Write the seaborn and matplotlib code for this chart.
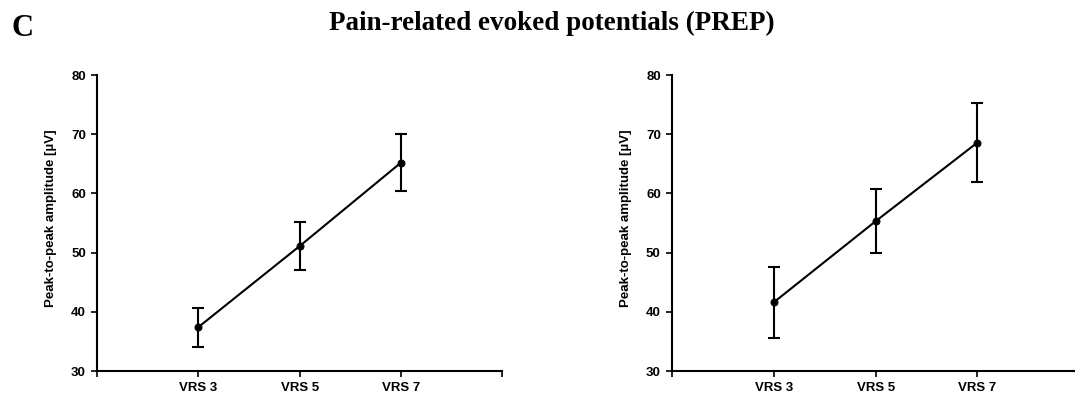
import matplotlib
matplotlib.use("Agg")
import matplotlib.pyplot as plt
import seaborn as sns
import numpy as np
import pandas as pd

categories = ["VRS 3", "VRS 5", "VRS 7"]
left_means = [37.4, 51.1, 65.2]
left_err = [3.3, 4.0, 4.8]
right_means = [41.6, 55.3, 68.6]
right_err = [6.0, 5.4, 6.7]
yticks = [30, 40, 50, 60, 70, 80]
ylabel = "Peak-to-peak amplitude [µV]"
title = "Pain-related evoked potentials (PREP)"
panel_letter = "C"

sns.set_theme(style="white")
plt.rcParams['font.family'] = ['Liberation Sans', 'DejaVu Sans']
plt.rcParams['text.color'] = 'black'
plt.rcParams['axes.labelcolor'] = 'black'

fig = plt.figure(figsize=(10.75, 4.01), dpi=100)
ax1 = fig.add_axes([0.0902, 0.0748, 0.377, 0.738])
ax2 = fig.add_axes([0.625, 0.0748, 0.379, 0.738])

positions = [1, 2, 3]
for ax, means, errs, wpx in [(ax1, left_means, left_err, 405), (ax2, right_means, right_err, 407)]:
    df = pd.DataFrame({"pos": positions, "mean": means})
    sns.lineplot(data=df, x="pos", y="mean", ax=ax, color="black", lw=1.5,
                 marker="o", markersize=5, markeredgecolor="black", legend=False)
    ax.errorbar(positions, means, yerr=errs, fmt="none", ecolor="black",
                elinewidth=1.5, capsize=4, capthick=1.5)
    ax.set_xlim(0, 4)
    ax.set_ylim(30, 80)
    ax.set_yticks(yticks)
    ax.set_yticklabels([str(t) for t in yticks], fontsize=9.5, fontweight="bold")
    ax.set_xticks([0, 1, 2, 3, 4])
    ax.set_xticklabels([""] + categories + [""], fontsize=9.5, fontweight="bold")
    ax.set_xlabel("")
    ax.set_ylabel(ylabel, fontsize=9.5, fontweight="bold")
    ax.yaxis.set_label_coords(-40 / wpx, 0.515)
    for s in ["top", "right"]:
        ax.spines[s].set_visible(False)
    for s in ["left", "bottom"]:
        ax.spines[s].set_color("black")
        ax.spines[s].set_linewidth(1.5)
    ax.tick_params(axis="both", direction="out", length=4, width=1.2, color="black",
                   left=True, bottom=True, pad=4, labelcolor="black")

fig.text(0.513, 1 - 29.5 / 401, title, ha="center", va="baseline", fontsize=19.5,
         fontweight="bold", color="black", family=["Liberation Serif", "DejaVu Serif"])
fig.text(0.011, 1 - 36 / 401, panel_letter, ha="left", va="baseline", fontsize=22,
         fontweight="bold", color="black", family=["Liberation Serif", "DejaVu Serif"])

fig.savefig("out.png", dpi=100)
